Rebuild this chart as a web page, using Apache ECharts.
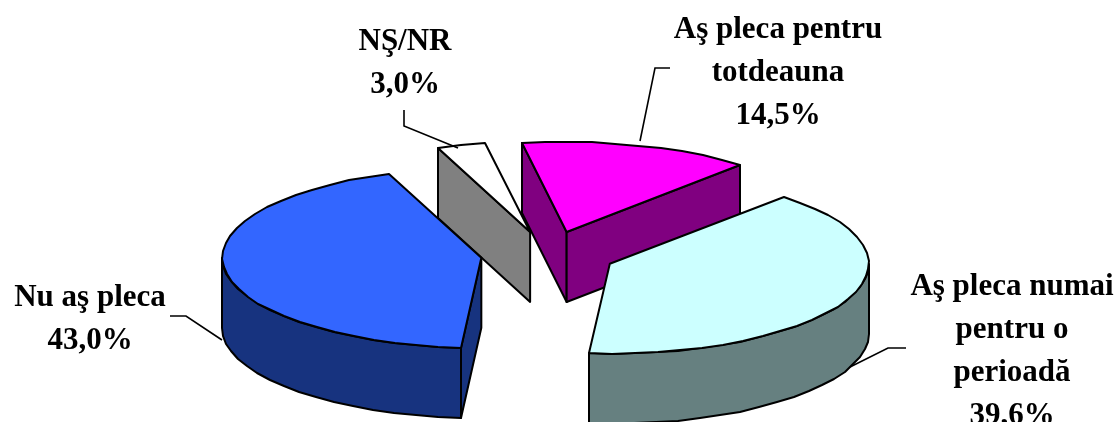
<!DOCTYPE html>
<html>
<head>
<meta charset="utf-8">
<style>
  html, body { margin: 0; padding: 0; background: #fff; }
  #chart { width: 1115px; height: 422px; }
</style>
<script src="https://cdn.jsdelivr.net/npm/echarts@6/dist/echarts.min.js"></script>
</head>
<body>
<div id="chart"></div>
<script>
const categories = ['Aş pleca pentru\ntotdeauna', 'Aş pleca numai\npentru o\nperioadă', 'Nu aş pleca', 'NŞ/NR']
const values = [14.5, 39.6, 43.0, 3.0]
const topColors = ['#ff00ff', '#ccffff', '#3366ff', '#ffffff']
const sideColors = ['#800080', '#668080', '#17337f', '#808080']

// back to front
const drawOrder = [3, 0, 2, 1]

// pie layout in px
const cx = 548
const cy = 254.5
const rx = 259
const ry = 90
const depth = 70
const explode = 0.26
const startAngle = 100

const labelPos = [[778, 73], [1012, 351], [90, 319], [405, 63]]
const leaders = [
  [[670, 68], [655, 68], [640, 141]],
  [[906, 348], [888, 348], [850, 367]],
  [[170, 316], [186, 316], [222, 340]],
  [[404, 110], [404, 126], [458, 148]]
]

const total = values.reduce((a, b) => a + b, 0)
const rad = (d) => d * Math.PI / 180

function sliceAngles(i) {
  let s = startAngle
  for (let k = 0; k < i; k++) s -= values[k] / total * 360
  return [s, s - values[i] / total * 360]
}

function rimPoints(c, from, to, dy) {
  const pts = []
  const n = Math.max(2, Math.round(Math.abs(from - to) / 5))
  for (let k = 0; k <= n; k++) {
    const a = rad(from + (to - from) * k / n)
    pts.push([Math.round(c[0] + rx * Math.cos(a)), Math.round(c[1] - ry * Math.sin(a) + dy)])
  }
  return pts
}

function poly(points, fill) {
  return {
    type: 'polygon',
    shape: { points },
    style: { fill, stroke: '#000', lineWidth: 2, lineJoin: 'round' }
  }
}

function renderItem(params, api) {
  const i = api.value(0)
  const [s, e] = sliceAngles(i)
  const mid = rad((s + e) / 2)
  const c = [cx + rx * explode * Math.cos(mid), cy - ry * explode * Math.sin(mid)]
  const side = sideColors[i]
  const children = []

  // cut walls, only the ones turned towards the viewer
  const cutWall = (ang) => {
    const r = rimPoints(c, ang, ang, 0)[0]
    return poly([[c[0], c[1]], r, [r[0], r[1] + depth], [c[0], c[1] + depth]], side)
  }
  if (Math.cos(rad(s)) < 0) children.push(cutWall(s))
  if (Math.cos(rad(e)) > 0) children.push(cutWall(e))

  // outer wall, front half of the rim
  const hi = Math.min(s, 0)
  const lo = Math.max(e, -180)
  if (hi > lo) {
    const upper = rimPoints(c, hi, lo, 0)
    const lower = rimPoints(c, hi, lo, depth).reverse()
    children.push(poly(upper.concat(lower), side))
  }

  children.push(poly([[c[0], c[1]]].concat(rimPoints(c, s, e, 0)), topColors[i]))

  children.push({
    type: 'polyline',
    shape: { points: leaders[i] },
    style: { fill: 'none', stroke: '#000', lineWidth: 1.6 }
  })
  children.push({
    type: 'text',
    style: {
      x: labelPos[i][0],
      y: labelPos[i][1],
      text: categories[i] + '\n' + api.value(1).toFixed(1).replace('.', ',') + '%',
      font: 'bold 31px "Liberation Serif", serif',
      lineHeight: 43,
      align: 'center',
      verticalAlign: 'middle',
      fill: '#000'
    }
  })
  return { type: 'group', children }
}

const chart = echarts.init(document.getElementById('chart'))
chart.setOption({
  animation: false,
  backgroundColor: '#fff',
  series: [{
    type: 'custom',
    coordinateSystem: 'none',
    renderItem,
    clip: false,
    data: drawOrder.map((i) => [i, values[i]])
  }]
})
</script>
</body>
</html>
